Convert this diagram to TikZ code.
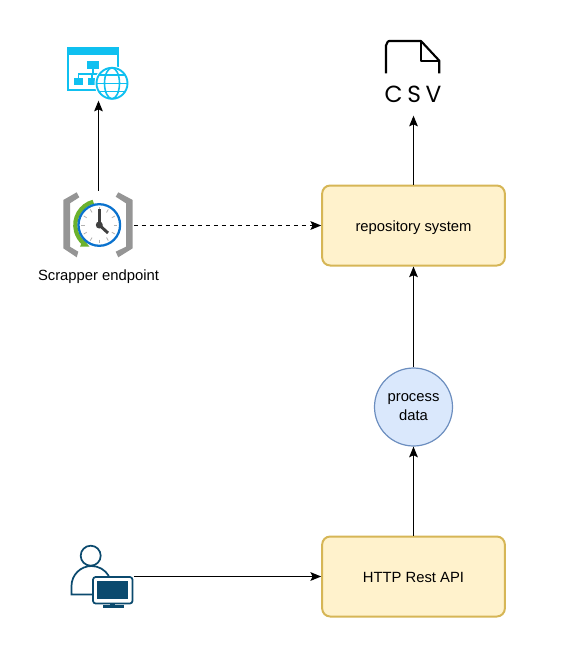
\documentclass[tikz,border=0pt]{standalone}
\usepackage{fontspec}
\setmainfont{Liberation Sans}
\newfontfamily\csvfont[LetterSpace=20]{Poppins}
\usetikzlibrary{arrows.meta}
\definecolor{boxfill}{HTML}{FFF2CC}
\definecolor{boxline}{HTML}{D6B656}
\definecolor{circfill}{HTML}{DAE8FC}
\definecolor{circline}{HTML}{6C8EBF}
\definecolor{webblue}{HTML}{0FC0F0}
\definecolor{clockblue}{HTML}{0A72CE}
\definecolor{clockgreen}{HTML}{6CB22E}
\definecolor{bracketgray}{HTML}{959595}
\definecolor{userblue}{HTML}{0B4A6E}
\tikzset{
  x=0.75pt,y=-0.75pt,
  every node/.style={font=\fontsize{11.1pt}{13.5pt}\selectfont,align=center,text=black},
  conn/.style={line width=0.9pt,-{Stealth[length=8pt,width=6.5pt,inset=1.5pt]}},
  stagebox/.style={draw=boxline,fill=boxfill,line width=1.5pt,rounded corners=6pt,
    minimum width=137pt,minimum height=60pt,inner sep=0pt,text height=9pt,text depth=0pt},
  procbox/.style={draw=circline,fill=circfill,circle,line width=0.9pt,minimum size=58.5pt,inner sep=0pt},
  anchorbox/.style={inner sep=0pt,outer sep=0pt},
}
\begin{document}
\begin{tikzpicture}
\useasboundingbox (0,0) rectangle (564,650);
% nodes
\node[stagebox] (repo) at (413.5,225.5) {repository system};
\node[stagebox] (api) at (413.5,576.5) {HTTP Rest API};
\node[procbox] (proc) at (413.5,407) {process\\[0.5pt]data};
\node[anchorbox,minimum width=62pt,minimum height=40pt] (web) at (98.5,74) {};
\node[anchorbox,minimum width=53pt,minimum height=60pt] (clock) at (98.5,225.5) {};
\node[anchorbox] (clocklabel) at (98.5,277) {Scrapper endpoint};
\node[anchorbox,minimum width=47pt,minimum height=58pt] (csv) at (413.5,77) {};
\node[anchorbox,minimum width=47pt,minimum height=54pt] (user) at (102.5,576.5) {};
% connectors
\draw[conn] (clock.north) ++(0,5) -- (web.south);
\draw[conn,dashed,dash pattern=on 3pt off 3pt] (clock.east) -- (repo.west);
\draw[conn] (repo.north) -- (csv.south);
\draw[conn] (proc.north) -- (repo.south);
\draw[conn] (api.north) -- (proc.south);
\draw[conn] (user.east) -- (api.west);
% web icon
\begin{scope}
\draw[webblue,line width=1.2pt,fill=white] (67.7,47.5) rectangle (118,90);
\fill[webblue] (67,47) rectangle (118.7,55);
\fill[webblue] (87,61) rectangle (99,69);
\fill[webblue] (74,78) rectangle (83.3,85);
\fill[webblue] (88.3,78) rectangle (95,85);
\draw[webblue,line width=0.9pt] (93,69) -- (93,74) (78.5,78) -- (78.5,74) -- (105,74);
\draw[webblue,line width=0.9pt] (92,74) -- (92,78);
\fill[white] (112,83.3) circle (17.5);
\draw[webblue,line width=1.4pt] (112,83.3) circle (15.5);
\draw[webblue,line width=1.2pt] (112,83.3) ellipse (7.5 and 15.5);
\draw[webblue,line width=1.2pt] (96.5,83.3) -- (127.5,83.3);
\draw[webblue,line width=1.2pt] (99,75) -- (125,75) (99,91.5) -- (125,91.5);
\end{scope}
% clock icon
\begin{scope}
\fill[bracketgray] (76.7,192.3) -- (63.3,200) -- (63.3,248.3) -- (76.7,257.3) -- (78.3,251.7) -- (70,246.7) -- (70,203.3) -- (79.3,197.3) -- cycle;
\fill[bracketgray] (118.3,192.3) -- (132.7,200) -- (132.7,248.3) -- (118.3,257.3) -- (115.7,251.7) -- (126,246.7) -- (126,203.3) -- (115.7,196.7) -- cycle;
\draw[clockgreen,line width=3.2pt] (93.3,201.8) arc[start angle=255.5,delta angle=-124,radius=24];
\fill[clockgreen] (80,246.7) -- (89.5,246.7) -- (83.3,239) -- cycle;
\fill[white] (99.3,225) circle (21);
\draw[clockblue,line width=1.7pt] (99.3,225) circle (20.8);
\foreach \a in {0,30,...,330}{\draw[gray!60,line width=0.6pt] (99.3,225) ++(\a:14.5) -- ++(\a:3.5);}
\draw[gray!50!black,line width=2.2pt] (99.3,225) -- (99.3,209);
\draw[gray!50!black,line width=2.2pt] (99.3,225) -- (108,233);
\fill[gray!50!black] (99.3,225) circle (3.5);
\end{scope}
% csv icon
\begin{scope}
\draw[black,line width=1.6pt,line join=round] (386,73.3) -- (386,45) to[out=-90,in=180] (389,41) -- (421,41) -- (439.3,60.7) -- (439.3,73.3);
\draw[black,line width=1.6pt,line join=round] (421,41) -- (421,60.7) -- (439.3,60.7);
\node[anchorbox,font=\csvfont\fontsize{17.5pt}{18pt}\selectfont] (csvtext) at (413,94.5) {CSV};
\end{scope}
% user icon
\begin{scope}
\draw[userblue,line width=1.3pt] (90.7,555.7) circle (10);
\draw[userblue,line width=1.3pt] (93,594.5) -- (71.5,594.5) -- (71.5,586) arc[start angle=180,end angle=330,radius=20];
\draw[userblue,line width=1.3pt,fill=white,rounded corners=2pt] (93,577) rectangle (132.5,603.5);
\fill[userblue] (97,580.5) rectangle (128.3,598.5);
\fill[userblue] (110,603) rectangle (115,606);
\fill[userblue] (102.5,605.3) rectangle (123.5,607.7);
\end{scope}
\end{tikzpicture}
\end{document}
